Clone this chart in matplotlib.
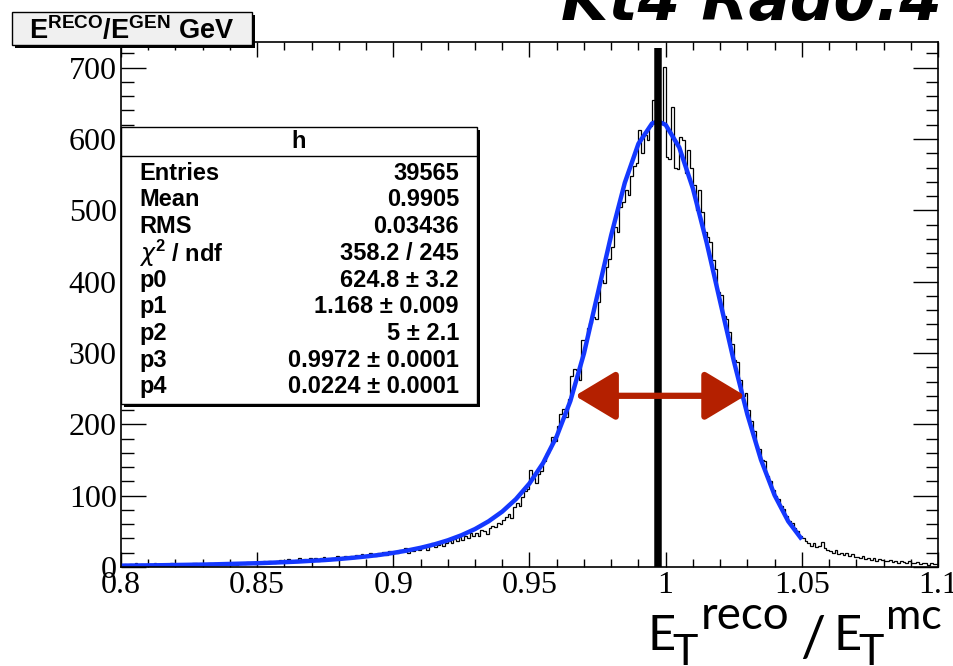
import numpy as np
import matplotlib
matplotlib.use("Agg")
import matplotlib.pyplot as plt
from matplotlib.patches import Rectangle
from matplotlib.ticker import MultipleLocator

# ------------------------------------------------------------
# data
# ------------------------------------------------------------
x_lo, x_hi, n_bins = 0.8, 1.1, 300

counts = [
    3, 4, 2, 4, 3, 5, 3, 4, 2, 3,
    4, 3, 5, 3, 2, 4, 4, 3, 5, 3,
    3, 4, 2, 3, 4, 3, 5, 6, 4, 3,
    4, 3, 5, 4, 6, 3, 4, 5, 3, 6,
    4, 5, 3, 6, 5, 4, 7, 5, 6, 4,
    7, 6, 8, 5, 9, 7, 6, 8, 10, 7,
    8, 11, 7, 9, 10, 12, 8, 11, 9, 12,
    10, 13, 9, 12, 14, 11, 10, 13, 12, 15,
    11, 14, 16, 12, 15, 13, 17, 14, 18, 16,
    15, 19, 17, 16, 20, 18, 21, 17, 22, 19,
    21, 19, 24, 22, 26, 20, 25, 23, 27, 24,
    26, 30, 24, 29, 33, 28, 31, 35, 30, 34,
    36, 33, 39, 37, 42, 38, 44, 41, 47, 43,
    48, 44, 52, 50, 46, 54, 58, 56, 62, 60,
    66, 70, 74, 68, 84, 90, 86, 98, 106, 110,
    136, 125, 118, 130, 135, 148, 160, 166, 182, 176,
    198, 215, 222, 210, 236, 268, 278, 276, 262, 318,
    318, 335, 342, 350, 348, 372, 402, 398, 420, 432,
    448, 476, 470, 505, 512, 528, 522, 548, 562, 566,
    612, 580, 606, 598, 618, 655, 640, 628, 622, 701,
    575, 572, 645, 560, 558, 603, 598, 552, 585, 560,
    535, 500, 528, 497, 470, 462, 455, 430, 418, 385,
    382, 352, 348, 330, 312, 290, 288, 262, 240, 244,
    220, 205, 190, 170, 165, 150, 148, 128, 120, 108,
    100, 95, 85, 82, 72, 64, 62, 55, 50, 44,
    40, 36, 33, 30, 34, 28, 30, 35, 26, 24,
    22, 20, 24, 18, 20, 17, 19, 15, 18, 14,
    14, 12, 15, 11, 13, 10, 12, 9, 11, 10,
    9, 8, 10, 7, 9, 6, 8, 7, 5, 8,
    6, 5, 7, 4, 6, 5, 3, 5, 4, 4,
]

# fitted curve (blue)
fit_x = [0.800, 0.805, 0.810, 0.815, 0.820, 0.825, 0.830, 0.835, 0.840, 0.845,
         0.850, 0.855, 0.860, 0.865, 0.870, 0.875, 0.880, 0.885, 0.890, 0.895,
         0.900, 0.905, 0.910, 0.915, 0.920, 0.925, 0.930, 0.935, 0.940, 0.945,
         0.950, 0.955, 0.960, 0.965, 0.970, 0.975, 0.980, 0.985, 0.990, 0.995,
         0.9972, 1.000, 1.005, 1.010, 1.015, 1.020, 1.025, 1.030, 1.035, 1.040,
         1.045, 1.050]
fit_y = [1.9, 2.1, 2.3, 2.5, 2.8, 3.1, 3.4, 3.8, 4.3, 4.8,
         5.3, 6.0, 6.8, 7.6, 8.7, 9.8, 11.2, 12.9, 14.8, 17.0,
         19.8, 23.0, 26.9, 31.6, 37.4, 44.5, 53.2, 64.1, 77.7, 95.1,
         117.2, 145.8, 183.2, 232.7, 299.4, 382.3, 465.2, 538.7, 593.4, 621.8,
         624.8, 619.9, 588.1, 530.7, 455.7, 372.2, 289.3, 213.9, 150.3, 100.6,
         64.1, 38.8]

peak_pos = 0.9972
arrow_x = [0.9667, 1.0292]
arrow_y = 240

stat_names = ["Entries", "Mean", "RMS", r"$\chi^{2}$ / ndf", "p0", "p1", "p2", "p3", "p4"]
stat_values = ["39565", "0.9905", "0.03436", "358.2 / 245", "624.8 \u00b1 3.2",
               "1.168 \u00b1 0.009", "5 \u00b1 2.1", "0.9972 \u00b1 0.0001", "0.0224 \u00b1 0.0001"]

# ------------------------------------------------------------
# figure
# ------------------------------------------------------------
plt.rcParams["mathtext.fontset"] = "custom"
plt.rcParams["mathtext.bf"] = "Liberation Sans:bold"
plt.rcParams["mathtext.rm"] = "Liberation Sans:bold"

W, H = 954, 666
fig = plt.figure(figsize=(W / 100, H / 100), dpi=100)
ax = fig.add_axes([121 / W, 1 - 567 / H, (938 - 121) / W, (567 - 42) / H])

edges = np.linspace(x_lo, x_hi, n_bins + 1)
ax.stairs(counts, edges, color="black", lw=0.9, baseline=None)
ax.plot(fit_x, fit_y, color="#1438ff", lw=3.2, solid_capstyle="butt")
ax.vlines(peak_pos, 0, 728, color="black", lw=5.4)
ax.annotate("", xy=(arrow_x[1], arrow_y), xytext=(arrow_x[0], arrow_y),
            arrowprops=dict(arrowstyle="<|-|>,head_length=1.25,head_width=0.75",
                            mutation_scale=20, lw=4.5, color="#b42000",
                            shrinkA=0, shrinkB=0))

ax.set_xlim(x_lo, x_hi)
ax.set_ylim(0, 736)
ax.xaxis.set_minor_locator(MultipleLocator(0.01))
ax.yaxis.set_minor_locator(MultipleLocator(20))
ax.set_xticks([0.8, 0.85, 0.9, 0.95, 1.0, 1.05, 1.1])
ax.set_xticklabels(["0.8", "0.85", "0.9", "0.95", "1", "1.05", "1.1"])
ax.set_yticks(range(0, 701, 100))
ax.tick_params(which="both", direction="in", top=True, right=True, width=1,
               labelsize=23, pad=3)
ax.tick_params(axis="x", which="major", length=11)
ax.tick_params(axis="x", which="minor", length=5.5)
ax.tick_params(axis="y", which="major", length=18)
ax.tick_params(axis="y", which="minor", length=9)
for lab in ax.get_xticklabels() + ax.get_yticklabels():
    lab.set_family("Liberation Serif")
for sp in ax.spines.values():
    sp.set_linewidth(1.2)

# stats box
tf = fig.transFigure
bx0, bx1, by0, by1 = 121 / W, 477 / W, 1 - 404 / H, 1 - 127 / H
fig.patches.append(Rectangle((bx0 + 3 / W, by0 - 3 / H), bx1 - bx0, by1 - by0,
                             transform=tf, facecolor="black", edgecolor="none", zorder=5))
fig.patches.append(Rectangle((bx0, by0), bx1 - bx0, by1 - by0, transform=tf,
                             facecolor="white", edgecolor="black", lw=1, zorder=6))
fig.lines.append(plt.Line2D([bx0, bx1], [1 - 156 / H, 1 - 156 / H], transform=tf,
                            color="black", lw=1, zorder=7))
fig.text((bx0 + bx1) / 2, 1 - 142 / H, "h", ha="center", va="center",
         family="Liberation Sans", weight="bold", fontsize=17, zorder=8)
for i, (nm, val) in enumerate(zip(stat_names, stat_values)):
    yy = 1 - (173 + i * 26.75) / H
    fig.text(139 / W, yy, nm, ha="left", va="center", family="Liberation Sans",
             weight="bold", fontsize=17, zorder=8)
    fig.text(459 / W, yy, val, ha="right", va="center", family="Liberation Sans",
             weight="bold", fontsize=17, zorder=8)

# title box top left
tx0, tx1, ty0, ty1 = 12 / W, 252 / W, 1 - 45 / H, 1 - 12 / H
fig.patches.append(Rectangle((tx0 + 3 / W, ty0 - 3 / H), tx1 - tx0, ty1 - ty0,
                             transform=tf, facecolor="black", edgecolor="none", zorder=5))
fig.patches.append(Rectangle((tx0, ty0), tx1 - tx0, ty1 - ty0, transform=tf,
                             facecolor="#f0f0f0", edgecolor="black", lw=1, zorder=6))
fig.text((tx0 + tx1) / 2, 1 - 31 / H, r"$\mathbf{E^{RECO}/E^{GEN}}$ GeV",
         ha="center", va="center", family="Liberation Sans", weight="bold",
         fontsize=19.5, zorder=8)

# partially cut heading top right
fig.text(942 / W, 1 - 20 / H, "Kt4 Rad0.4", ha="right", va="baseline",
         family="DejaVu Sans", style="italic", weight="bold", fontsize=44)

# x axis label, built from pieces (sub/superscripts nearly full size)
lab_font = "Lato"
pieces = [("E", 648, 650, 35), ("T", 672, 665, 31), ("reco", 701, 629, 33),
          ("/", 800, 656, 40), ("E", 834, 650, 35), ("T", 858, 665, 31),
          ("mc", 886, 629, 31)]
for txt, px, py, fs in pieces:
    fig.text(px / W, 1 - py / H, txt, ha="left", va="baseline",
             family=lab_font, fontsize=fs)

fig.savefig("out.png", dpi=100)
